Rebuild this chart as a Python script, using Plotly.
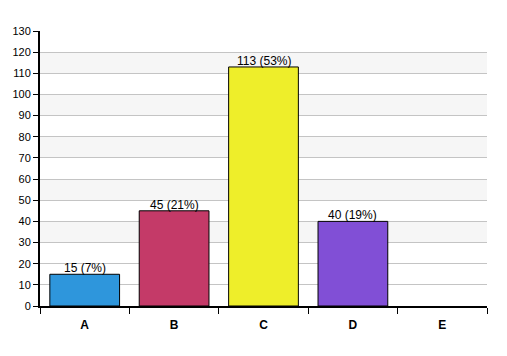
import plotly.graph_objects as go

categories = ["A", "B", "C", "D", "E"]
counts = [15, 45, 113, 40, 0]
percents = [7, 21, 53, 19, 0]
colors = ["#2e96dc", "#c43a68", "#eeee2a", "#814fd6", "#888888"]
y_ticks = list(range(0, 131, 10))

labels = [f"{c} ({p}%)" if c > 0 else "" for c, p in zip(counts, percents)]
line_widths = [1 if c > 0 else 0 for c in counts]

fig = go.Figure()
fig.add_trace(go.Bar(
    x=categories, y=counts,
    marker=dict(color=colors, line=dict(color="#000", width=line_widths)),
    width=0.78,
))

annotations = []
for cat, c, lab in zip(categories, counts, labels):
    if lab:
        annotations.append(dict(x=cat, y=c, xref="x", yref="y", text=lab, showarrow=False,
                                yanchor="bottom", yshift=-3,
                                font=dict(family="Liberation Sans, Arial", size=12, color="#000")))

shapes = []
for lo in range(30, 130, 20):
    shapes.append(dict(type="rect", xref="paper", yref="y", x0=0, x1=1, y0=lo, y1=lo + 10,
                       fillcolor="#f6f6f6", line=dict(width=0), layer="below"))
fig.update_layout(
    width=507, height=356,
    margin=dict(l=32, r=28, t=23, b=58, autoexpand=False),
    paper_bgcolor="white", plot_bgcolor="white",
    shapes=shapes, annotations=annotations, showlegend=False,
    font=dict(family="Liberation Sans, Arial", size=10, color="#000"),
    xaxis=dict(type="category", tickson="boundaries", ticks="outside", ticklen=6,
               tickcolor="#000", showline=True, linecolor="#000", linewidth=2,
               showgrid=False, tickfont=dict(size=12, family="Liberation Sans, Arial", weight="bold"),
               ticklabelstandoff=7, automargin=False,
               range=[-0.5, 4.5]),
    yaxis=dict(range=[0, 130], tickvals=y_ticks, ticks="outside", ticklen=5, tickcolor="#000",
               showline=True, linecolor="#000", linewidth=2, showgrid=True, gridcolor="#c4c4c4",
               gridwidth=1, zeroline=False, tickfont=dict(size=11), automargin=False),
    bargap=0.22,
)
fig.write_html("out.html")
